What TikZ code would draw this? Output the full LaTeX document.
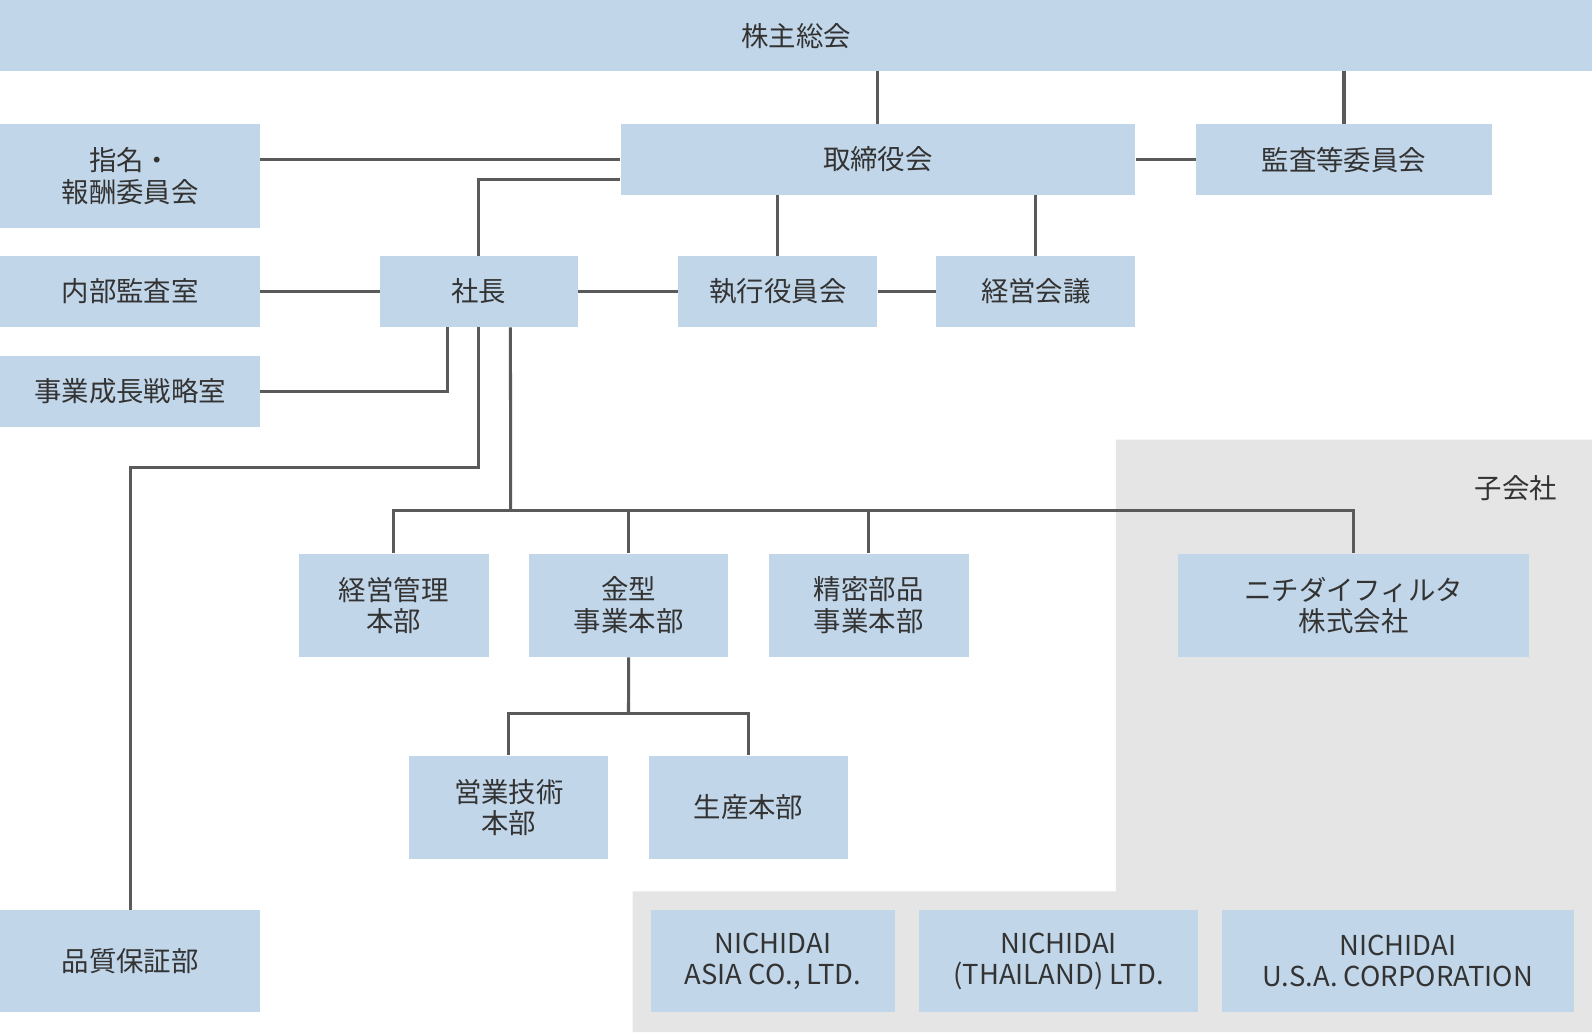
\documentclass[tikz,border=0pt]{standalone}
\usepackage{fontspec}
\setmainfont{Noto Sans CJK JP}
\usetikzlibrary{calc}
\definecolor{boxblue}{HTML}{C2D6E9}
\definecolor{bggray}{HTML}{E5E5E5}
\definecolor{linegray}{HTML}{5A5A5A}
\definecolor{txtgray}{HTML}{333333}
\tikzset{
  org/.style={fill=boxblue, inner sep=0pt, anchor=north west, align=center, text=txtgray,
    font=\fontsize{27}{31}\selectfont},
  link/.style={draw=linegray, line width=3pt}
}
\newcommand{\orgbox}[6]{\node[org, minimum width=#4, minimum height=#5] (#1) at (#2,#3) {#6};}
\begin{document}
\begin{tikzpicture}[x=1pt,y=-1pt]
	\useasboundingbox (0,0) rectangle (1568,1016.5);
	% subsidiaries background
	\fill[bggray] (1099,433) -- (1568,433) -- (1568,1016.5) -- (623,1016.5) -- (623,878) -- (1099,878) -- cycle;
	\node[text=txtgray, font=\fontsize{27}{31}\selectfont] (sub) at (1493,481) {子会社};
	
	\orgbox{gm}{0}{0}{1568}{70}{株主総会}
	\orgbox{nom}{0}{122}{256}{102}{指名・\\報酬委員会}
	\orgbox{board}{611}{122}{507}{70}{取締役会}
	\orgbox{audit}{1178}{122}{291}{70}{監査等委員会}
	\orgbox{internal}{0}{252}{256}{70}{内部監査室}
	\orgbox{ceo}{374}{252}{195}{70}{社長}
	\orgbox{exec}{668}{252}{196}{70}{執行役員会}
	\orgbox{meet}{922}{252}{196}{70}{経営会議}
	\orgbox{strat}{0}{350}{256}{70}{事業成長戦略室}
	\orgbox{mgmt}{294}{545}{187}{102}{経営管理\\本部}
	\orgbox{mold}{521}{545}{196}{102}{金型\\事業本部}
	\orgbox{prec}{757}{545}{197}{102}{精密部品\\事業本部}
	\orgbox{filt}{1160}{545}{346}{102}{ニチダイフィルタ\\株式会社}
	\orgbox{sales}{403}{744}{196}{102}{営業技術\\本部}
	\orgbox{prod}{639}{744}{196}{102}{生産本部}
	\orgbox{qa}{0}{896}{256}{101}{品質保証部}
	\orgbox{asia}{641}{896}{240}{101}{NICHIDAI\\ASIA CO., LTD.}
	\orgbox{thai}{905}{896}{275}{101}{NICHIDAI\\(THAILAND) LTD.}
	\orgbox{usa}{1203}{896}{347}{101}{NICHIDAI\\U.S.A. CORPORATION}
	
	\coordinate (bus) at (503,503);
	\coordinate (moldbus) at (619,703);
	
	\draw[link] (board.north) -- (board.north |- gm.south);
	\draw[link] (audit.north) -- (audit.north |- gm.south);
	\draw[link] (board.west) -- (board.west -| nom.east);
	\draw[link] (board.east) -- (audit.west);
	\draw[link] (ceo.north) |- ([yshift=-20pt]board.west);
	\draw[link] (exec.north) -- (exec.north |- board.south);
	\draw[link] (meet.north) -- (meet.north |- board.south);
	\draw[link] (internal.east) -- (ceo.west);
	\draw[link] (ceo.east) -- (exec.west);
	\draw[link] (exec.east) -- (meet.west);
	\draw[link] ([xshift=-31pt]ceo.south) |- (strat.east);
	\draw[link] (ceo.south) |- ($(qa.north)+(0,-436)$) -- (qa.north);
	\draw[link] ([xshift=31pt]ceo.south) -- (bus);
	\draw[link] (mgmt.north) |- (bus) -| (filt.north);
	\draw[link] (mold.north) -- (mold.north |- bus);
	\draw[link] (prec.north) -- (prec.north |- bus);
	\draw[link] (mold.south) -- (moldbus);
	\draw[link] (sales.north) |- (moldbus) -| (prod.north);
\end{tikzpicture}
\end{document}
